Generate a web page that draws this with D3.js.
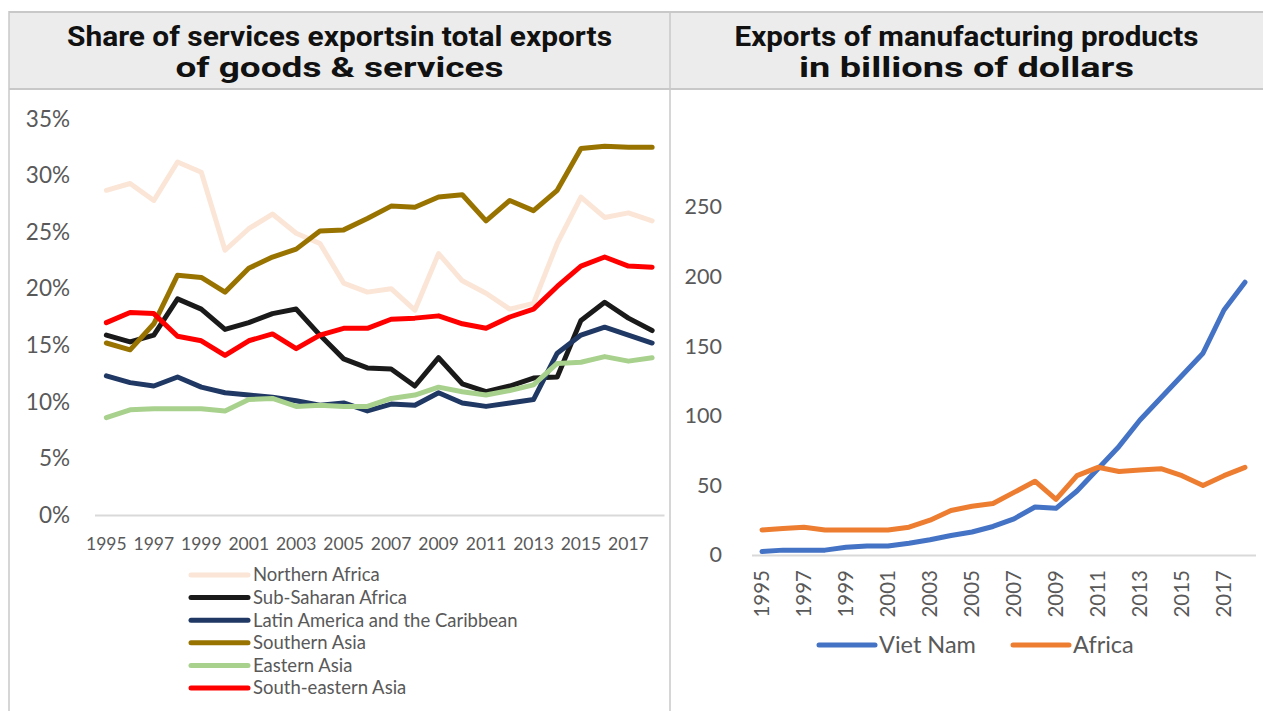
<!DOCTYPE html>
<html>
<head>
<meta charset="utf-8">
<script src="https://cdn.jsdelivr.net/npm/d3@7"></script>
<style>
  html, body { margin: 0; padding: 0; background: #ffffff; }
  svg { display: block; }
</style>
</head>
<body>
<svg id="chart" width="1263" height="711"></svg>
<script>
// ---------- DATA ----------
const years = d3.range(1995, 2019).map(String);
const tickYears = ["1995","1997","1999","2001","2003","2005","2007","2009","2011","2013","2015","2017"];

const leftTitle = ["Share of services exportsin total exports", "of goods & services"];
const rightTitle = ["Exports of manufacturing products", "in billions of dollars"];

const seriesNames = ["Northern Africa","Sub-Saharan Africa","Latin America and the Caribbean","Southern Asia","Eastern Asia","South-eastern Asia"];
const seriesColors = ["#fbe5d6","#1a1a1a","#203864","#997300","#a9d18e","#ff0000"];

const northernAfrica   = [28.7,29.3,27.8,31.2,30.3,23.4,25.3,26.6,24.9,24.0,20.5,19.7,20.0,18.1,23.1,20.7,19.6,18.2,18.7,24.0,28.1,26.3,26.7,26.0];
const subSaharanAfrica = [15.9,15.3,15.9,19.1,18.2,16.4,17.0,17.8,18.2,15.9,13.8,13.0,12.9,11.4,13.9,11.6,10.9,11.4,12.1,12.2,17.2,18.8,17.4,16.3];
const latinAmerica     = [12.3,11.7,11.4,12.2,11.3,10.8,10.6,10.4,10.1,9.7,9.9,9.2,9.8,9.7,10.8,9.9,9.6,9.9,10.2,14.3,15.9,16.6,15.9,15.2];
const southernAsia     = [15.2,14.6,16.9,21.2,21.0,19.7,21.8,22.8,23.5,25.1,25.2,26.2,27.3,27.2,28.1,28.3,26.0,27.8,26.9,28.7,32.4,32.6,32.5,32.5];
const easternAsia      = [8.6,9.3,9.4,9.4,9.4,9.2,10.2,10.3,9.6,9.7,9.6,9.6,10.3,10.6,11.3,10.9,10.6,11.0,11.5,13.4,13.5,14.0,13.6,13.9];
const southEastAsia    = [17.0,17.9,17.8,15.8,15.4,14.1,15.4,16.0,14.7,15.9,16.5,16.5,17.3,17.4,17.6,16.9,16.5,17.5,18.2,20.2,22.0,22.8,22.0,21.9];
const leftSeries = [northernAfrica, subSaharanAfrica, latinAmerica, southernAsia, easternAsia, southEastAsia];
const leftTicks = [0,5,10,15,20,25,30,35];

const rightNames = ["Viet Nam","Africa"];
const rightColors = ["#4472c4","#ed7d31"];
const vietNam = [2.5,3.5,3.5,3.5,5.5,6.5,6.5,8.5,11,14,16.5,20.5,26,34.5,33.5,46,62,78,97,113,129,145,176,196];
const africa  = [18,19,20,18,18,18,18,20,25,32,35,37,45,53,40,57,63,60,61,62,57,50,57,63];
const rightSeries = [vietNam, africa];
const rightTicks = [0,50,100,150,200,250];

// ---------- DRAW ----------
const svg = d3.select("#chart");
const tickFont = "Lato, 'Open Sans', sans-serif";
const gray = "#595959";

svg.append("rect").attr("width",1263).attr("height",711).attr("fill","#fff");

// header panels
function header(x0, x1, lines, widths) {
  svg.append("rect").attr("x",x0).attr("y",12).attr("width",x1-x0).attr("height",77).attr("fill","#ececec");
  svg.append("line").attr("x1",x0).attr("x2",x1).attr("y1",12).attr("y2",12).attr("stroke","#c8c8c8").attr("stroke-width",2);
  svg.append("line").attr("x1",x0).attr("x2",x1).attr("y1",89).attr("y2",89).attr("stroke","#c8c8c8").attr("stroke-width",2);
  const cx = (x0 + x1) / 2;
  lines.forEach((t, i) => {
    svg.append("text").attr("x",cx).attr("y",46 + i*31)
      .attr("text-anchor","middle")
      .attr("font-family","Roboto, 'Open Sans', sans-serif")
      .attr("font-weight",700).attr("font-size",28.5).attr("fill","#111")
      .attr("textLength",widths[i]).attr("lengthAdjust","spacingAndGlyphs")
      .text(t);
  });
}
header(9, 670, leftTitle, [545, 328]);
header(670, 1263, rightTitle, [464, 335]);

// panel borders
svg.append("line").attr("x1",9).attr("x2",9).attr("y1",11).attr("y2",711).attr("stroke","#c8c8c8").attr("stroke-width",1.5);
svg.append("line").attr("x1",670).attr("x2",670).attr("y1",11).attr("y2",711).attr("stroke","#c8c8c8").attr("stroke-width",1.5);

// ---------- LEFT CHART ----------
const xL = d3.scaleBand().domain(years).range([94.5, 664]);
const yL = d3.scaleLinear().domain([0, 35]).range([515, 119]);
const cxL = d => xL(d) + xL.bandwidth()/2;

const gxL = svg.append("g").attr("transform","translate(0,515)")
  .call(d3.axisBottom(xL).tickValues(tickYears).tickSize(0).tickSizeOuter(0).tickPadding(23));
gxL.select(".domain").attr("stroke","#d9d9d9").attr("stroke-width",2);
gxL.selectAll("text").attr("font-family",tickFont).attr("font-size",17.5).attr("fill",gray);

const gyL = svg.append("g").attr("transform","translate(72,0)")
  .call(d3.axisLeft(yL).tickValues(leftTicks).tickSize(0).tickPadding(2).tickFormat(d => d + "%"));
gyL.select(".domain").remove();
gyL.selectAll("text").attr("font-family",tickFont).attr("font-size",22.5).attr("fill",gray);

const lineL = d3.line().x((d,i) => cxL(years[i])).y(d => yL(d));
leftSeries.forEach((s, k) => {
  svg.append("path").datum(s).attr("d", lineL)
    .attr("fill","none").attr("stroke",seriesColors[k]).attr("stroke-width",5)
    .attr("stroke-linejoin","round").attr("stroke-linecap","round");
});

// left legend
const legL = svg.append("g");
seriesNames.forEach((n, k) => {
  const y = 575 + k*22.6;
  legL.append("line").attr("x1",191).attr("x2",248).attr("y1",y).attr("y2",y)
    .attr("stroke",seriesColors[k]).attr("stroke-width",5).attr("stroke-linecap","round");
  legL.append("text").attr("x",253).attr("y",y).attr("dy","0.35em")
    .attr("font-family",tickFont).attr("font-size",18.5).attr("fill",gray).text(n);
});

// ---------- RIGHT CHART ----------
const xR = d3.scaleBand().domain(years).range([751.5, 1255.5]);
const yR = d3.scaleLinear().domain([0, 250]).range([555, 207]);
const cxR = d => xR(d) + xR.bandwidth()/2;

const gxR = svg.append("g").attr("transform","translate(0,555)")
  .call(d3.axisBottom(xR).tickValues(tickYears).tickSize(0).tickSizeOuter(0));
gxR.select(".domain").attr("stroke","#d9d9d9").attr("stroke-width",2);
gxR.selectAll("text").attr("font-family",tickFont).attr("font-size",20.5).attr("fill",gray)
  .attr("transform","rotate(-90)").attr("text-anchor","end")
  .attr("x",-15).attr("y",0).attr("dy","0.36em");

const gyR = svg.append("g").attr("transform","translate(724,0)")
  .call(d3.axisLeft(yR).tickValues(rightTicks).tickSize(0).tickPadding(2));
gyR.select(".domain").remove();
gyR.selectAll("text").attr("font-family",tickFont).attr("font-size",21.5).attr("fill",gray);

const lineR = d3.line().x((d,i) => cxR(years[i])).y(d => yR(d));
rightSeries.forEach((s, k) => {
  svg.append("path").datum(s).attr("d", lineR)
    .attr("fill","none").attr("stroke",rightColors[k]).attr("stroke-width",5)
    .attr("stroke-linejoin","round").attr("stroke-linecap","round");
});

// right legend
const legR = svg.append("g");
const legRx = [819, 1013];
rightNames.forEach((n, k) => {
  const x = legRx[k], y = 645;
  legR.append("line").attr("x1",x).attr("x2",x+56).attr("y1",y).attr("y2",y)
    .attr("stroke",rightColors[k]).attr("stroke-width",5).attr("stroke-linecap","round");
  legR.append("text").attr("x",x+60).attr("y",y).attr("dy","0.35em")
    .attr("font-family",tickFont).attr("font-size",23.5).attr("fill",gray).text(n);
});
</script>
</body>
</html>
